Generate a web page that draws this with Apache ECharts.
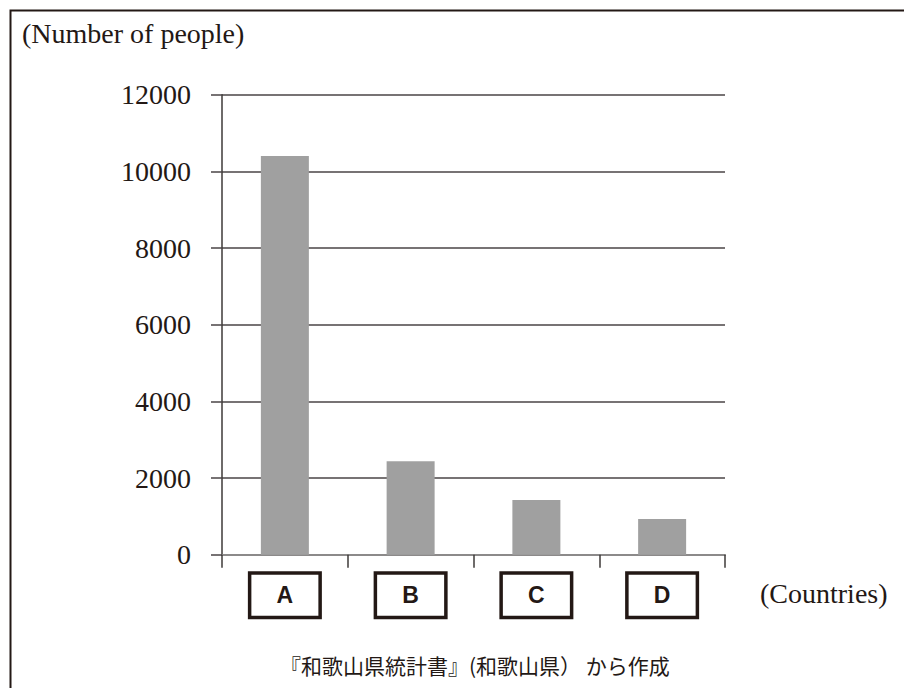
<!DOCTYPE html>
<html>
<head>
<meta charset="utf-8">
<script src="https://cdn.jsdelivr.net/npm/echarts@6/dist/echarts.min.js"></script>
<style>
  html, body { margin: 0; padding: 0; background: #ffffff; }
  #chart { width: 904px; height: 688px; }
</style>
</head>
<body>
<div id="chart"></div>
<script>
// Visitor counts by country
const categories = ['A', 'B', 'C', 'D'];
const visitors = [10400, 2440, 1430, 930];
const yTicks = { min: 0, max: 12000, interval: 2000 };

const titleText = '(Number of people)';
const xName = '(Countries)';
const sourceText = '『和歌山県統計書』(和歌山県） から作成';

const ink = '#231815';
const serif = '"Liberation Serif", "Times New Roman", serif';

const chart = echarts.init(document.getElementById('chart'), null, { renderer: 'svg' });

chart.setOption({
  backgroundColor: '#ffffff',
  animation: false,
  grid: { left: 222, right: 179, top: 94.7, bottom: 133.3 },
  xAxis: {
    type: 'category',
    data: categories,
    boundaryGap: true,
    axisLine: { show: true, lineStyle: { color: '#8c8a8a', width: 2 } },
    axisTick: { show: true, length: 13, lineStyle: { color: '#3e3a39', width: 1.5 } },
    axisLabel: {
      margin: 20,
      color: ink,
      fontFamily: '"Liberation Sans", Arial, sans-serif',
      fontWeight: 'bold',
      fontSize: 23,
      width: 67,
      height: 41,
      lineHeight: 41,
      align: 'center',
      verticalAlign: 'top',
      borderColor: ink,
      borderWidth: 3.5,
      backgroundColor: '#ffffff'
    },
    splitLine: { show: false }
  },
  yAxis: {
    type: 'value',
    min: yTicks.min,
    max: yTicks.max,
    interval: yTicks.interval,
    axisLine: { show: true, lineStyle: { color: '#3e3a39', width: 1.5 } },
    axisTick: { show: true, length: 11, lineStyle: { color: '#4a4546', width: 1.5 } },
    axisLabel: {
      margin: 31,
      color: ink,
      fontFamily: serif,
      fontSize: 28,
      formatter: (v) => String(v)
    },
    splitLine: { show: true, lineStyle: { color: '#4a4546', width: 1.5 } }
  },
  series: [{
    type: 'bar',
    data: visitors,
    barWidth: 48,
    itemStyle: { color: '#a0a0a0' },
    z: 1
  }],
  graphic: [
    {
      type: 'rect',
      left: 8, top: 8,
      shape: { x: 0, y: 0, width: 1000, height: 1000 },
      style: { fill: 'none', stroke: ink, lineWidth: 2 },
      silent: true
    },
    {
      type: 'text',
      left: 22, top: 19,
      style: { text: titleText, font: '28px ' + serif, fill: ink }
    },
    {
      type: 'text',
      left: 760, top: 579,
      style: { text: xName, font: '28px ' + serif, fill: ink }
    },
    {
      type: 'text',
      left: 280, top: 654,
      style: { text: sourceText, font: '21px "Noto Sans CJK JP", sans-serif', fill: ink }
    }
  ]
});
</script>
</body>
</html>
